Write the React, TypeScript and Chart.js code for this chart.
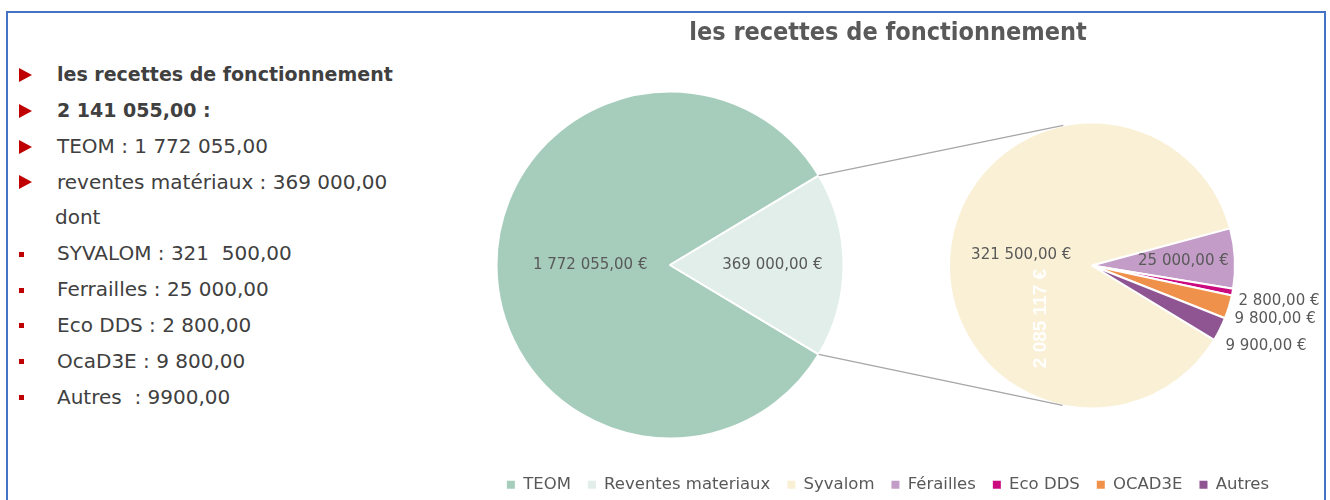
import React, { useEffect, useRef } from 'react';
import { Chart, registerables } from 'chart.js';

Chart.register(...registerables);

// ---------- data ----------
const chartTitle = 'les recettes de fonctionnement';
const mainLabels = ['TEOM', 'Reventes materiaux'];
const mainValues = [1772055, 369000];
const mainColors = ['#A6CDBC', '#E1EEEA'];

const subLabels = ['Syvalom', 'Férailles', 'Eco DDS', 'OCAD3E', 'Autres'];
const subValues = [321500, 25000, 2800, 9800, 9900];
const subColors = ['#FAF0D6', '#C49CC8', '#CC0A80', '#F0914B', '#8E5592'];

const boxTotalLabel = '2 085 117 €';

const headerLines = ['les recettes de fonctionnement', '2 141 055,00 :'];
const totalLines = ['TEOM : 1 772 055,00', 'reventes matériaux : 369 000,00'];
const dontLine = 'dont';
const detailLines = [
  'SYVALOM : 321  500,00',
  'Ferrailles : 25 000,00',
  'Eco DDS : 2 800,00',
  'OcaD3E : 9 800,00',
  'Autres  : 9900,00',
];

// ---------- helpers ----------
const FONT = '"DejaVu Sans", sans-serif';
const LABEL_COLOR = '#595959';

function formatEuro(v: number): string {
  const [intPart, dec] = v.toFixed(2).split('.');
  const grouped = intPart.replace(/\B(?=(\d{3})+(?!\d))/g, ' ');
  return `${grouped},${dec} €`;
}

function makePieAreaPlugin(cx: number, cy: number, r: number) {
  return {
    id: 'pieArea',
    afterLayout(chart: any) {
      chart.chartArea = {
        left: cx - r,
        top: cy - r,
        right: cx + r,
        bottom: cy + r,
        width: 2 * r,
        height: 2 * r,
      };
    },
  };
}

type Placement = { outside: boolean; frac?: number; gap?: number; dy?: number };

function makeSliceLabelPlugin(placement: Placement[]) {
  return {
    id: 'sliceLabels',
    afterDatasetsDraw(chart: any) {
      const meta = chart.getDatasetMeta(0);
      const values = chart.data.datasets[0].data as number[];
      const ctx = chart.ctx as CanvasRenderingContext2D;
      ctx.save();
      ctx.font = `15px ${FONT}`;
      ctx.fillStyle = LABEL_COLOR;
      meta.data.forEach((arc: any, i: number) => {
        const p = arc.getProps(['x', 'y', 'startAngle', 'endAngle', 'outerRadius'], true);
        const mid = (p.startAngle + p.endAngle) / 2;
        const pl = placement[i];
        const text = formatEuro(values[i]);
        if (pl.outside) {
          const rr = p.outerRadius + (pl.gap ?? 6);
          ctx.textAlign = 'left';
          ctx.textBaseline = 'middle';
          ctx.fillText(text, p.x + rr * Math.cos(mid), p.y + rr * Math.sin(mid) + (pl.dy ?? 0));
        } else {
          const rr = p.outerRadius * (pl.frac ?? 0.5);
          ctx.textAlign = 'center';
          ctx.textBaseline = 'middle';
          ctx.fillText(text, p.x + rr * Math.cos(mid), p.y + rr * Math.sin(mid));
        }
      });
      ctx.restore();
    },
  };
}

function makeConnectorPlugin(getMain: () => any, mainIndex: number) {
  return {
    id: 'connectors',
    afterDatasetsDraw(chart: any) {
      const main = getMain();
      if (!main) return;
      const arc = main.getDatasetMeta(0).data[mainIndex];
      const sub = chart.getDatasetMeta(0).data[0];
      if (!arc || !sub) return;
      const a = arc.getProps(['x', 'y', 'startAngle', 'endAngle', 'outerRadius'], true);
      const s = sub.getProps(['x', 'y', 'outerRadius'], true);
      const ctx = chart.ctx as CanvasRenderingContext2D;
      ctx.save();
      ctx.strokeStyle = '#A6A6A6';
      ctx.lineWidth = 1.3;
      const ends: Array<[number, number]> = [
        [a.startAngle, 1],
        [a.endAngle, -1],
      ];
      ends.forEach(([ang, sign]) => {
        const px = a.x + a.outerRadius * Math.cos(ang);
        const py = a.y + a.outerRadius * Math.sin(ang);
        const dx = px - s.x;
        const dy = py - s.y;
        const d = Math.hypot(dx, dy);
        const phi = Math.atan2(dy, dx);
        const alpha = Math.acos(Math.min(1, s.outerRadius / d));
        const t = phi + sign * alpha;
        ctx.beginPath();
        ctx.moveTo(px, py);
        ctx.lineTo(s.x + s.outerRadius * Math.cos(t), s.y + s.outerRadius * Math.sin(t));
        ctx.stroke();
      });
      ctx.restore();
    },
  };
}

function makeVerticalNotePlugin(text: string) {
  return {
    id: 'verticalNote',
    afterDatasetsDraw(chart: any) {
      const sub = chart.getDatasetMeta(0).data[0];
      if (!sub) return;
      const s = sub.getProps(['x', 'y', 'outerRadius'], true);
      const ctx = chart.ctx as CanvasRenderingContext2D;
      ctx.save();
      ctx.translate(s.x - 0.357 * s.outerRadius, s.y + 0.371 * s.outerRadius);
      ctx.rotate(-Math.PI / 2);
      ctx.font = 'bold 19px "Liberation Sans", Arial, sans-serif';
      ctx.fillStyle = 'rgba(255,255,255,0.95)';
      ctx.textAlign = 'center';
      ctx.textBaseline = 'middle';
      ctx.fillText(text, 0, 0);
      ctx.restore();
    },
  };
}

const CANVAS_LEFT = 452;
const CANVAS_TOP = 14;
const CANVAS_W = 872;
const CANVAS_H = 489;

export default function App() {
  const mainRef = useRef<HTMLCanvasElement>(null);
  const subRef = useRef<HTMLCanvasElement>(null);

  useEffect(() => {
    if (!mainRef.current || !subRef.current) return;

    const legendItems = () => [
      ...mainLabels.map((text, i) => ({
        text,
        fillStyle: mainColors[i],
        strokeStyle: mainColors[i],
        lineWidth: 0,
        hidden: false,
        index: i,
        fontColor: LABEL_COLOR,
      })),
      ...subLabels.map((text, i) => ({
        text,
        fillStyle: subColors[i],
        strokeStyle: subColors[i],
        lineWidth: 0,
        hidden: false,
        index: mainLabels.length + i,
        fontColor: LABEL_COLOR,
      })),
    ];

    const main: any = new Chart(mainRef.current, {
      type: 'pie',
      data: {
        labels: mainLabels,
        datasets: [
          {
            data: mainValues,
            backgroundColor: mainColors,
            borderColor: '#FFFFFF',
            borderWidth: 2,
          },
        ],
      },
      options: {
        responsive: false,
        animation: false,
        rotation: 121,
        events: [],
        layout: { padding: 0 },
        plugins: {
          title: {
            display: true,
            text: chartTitle,
            color: LABEL_COLOR,
            font: { family: '"DejaVu Sans Condensed", "DejaVu Sans", sans-serif', size: 25, weight: 'bold' },
            padding: { top: 4, bottom: 8 },
          },
          legend: {
            display: true,
            position: 'bottom',
            onClick: () => {},
            labels: {
              generateLabels: legendItems,
              boxWidth: 8,
              boxHeight: 8,
              padding: 17,
              color: LABEL_COLOR,
              font: { family: FONT, size: 16.5 },
            },
          },
          tooltip: { enabled: false },
        },
      },
      plugins: [
        makePieAreaPlugin(218, 251, 174.5),
        makeSliceLabelPlugin([
          { outside: false, frac: 0.46 },
          { outside: false, frac: 0.59 },
        ]),
      ],
    } as any);

    const sub: any = new Chart(subRef.current, {
      type: 'pie',
      data: {
        labels: subLabels,
        datasets: [
          {
            data: subValues,
            backgroundColor: subColors,
            borderColor: '#FFFFFF',
            borderWidth: 2,
          },
        ],
      },
      options: {
        responsive: false,
        animation: false,
        rotation: 121.3,
        events: [],
        layout: { padding: 0 },
        plugins: {
          legend: { display: false },
          title: { display: false },
          tooltip: { enabled: false },
        },
      },
      plugins: [
        makePieAreaPlugin(640, 251.5, 144),
        makeConnectorPlugin(() => main, 1),
        makeSliceLabelPlugin([
          { outside: false, frac: 0.5 },
          { outside: false, frac: 0.64 },
          { outside: true, gap: 6, dy: 8 },
          { outside: true, gap: 6, dy: 10 },
          { outside: true, gap: 6, dy: 14 },
        ]),
        makeVerticalNotePlugin(boxTotalLabel),
      ],
    } as any);

    return () => {
      sub.destroy();
      main.destroy();
    };
  }, []);

  const LINE_TOP = 57;
  const LINE_H = 35.85;
  const textColor = '#404040';

  type Row = { text: string; bold: boolean; bullet: 'arrow' | 'square' | 'none' };
  const rows: Row[] = [
    ...headerLines.map((text) => ({ text, bold: true, bullet: 'arrow' as const })),
    ...totalLines.map((text) => ({ text, bold: false, bullet: 'arrow' as const })),
    { text: dontLine, bold: false, bullet: 'none' as const },
    ...detailLines.map((text) => ({ text, bold: false, bullet: 'square' as const })),
  ];

  return (
    <div
      style={{
        position: 'fixed',
        left: 0,
        top: 0,
        width: 1330,
        height: 500,
        overflow: 'hidden',
        background: '#FFFFFF',
      }}
    >
      <div
        style={{
          position: 'absolute',
          left: 6,
          top: 11,
          width: 1316,
          height: 540,
          border: '2px solid #4472C4',
          boxSizing: 'content-box',
        }}
      />
      {rows.map((row, i) => (
        <div
          key={i}
          style={{
            position: 'absolute',
            left: 0,
            top: LINE_TOP + i * LINE_H,
            width: 440,
            height: LINE_H,
            display: 'flex',
            alignItems: 'center',
          }}
        >
          {row.bullet === 'arrow' && (
            <span
              style={{
                position: 'absolute',
                left: 19,
                top: LINE_H / 2 - 7,
                width: 0,
                height: 0,
                borderLeft: '13px solid #C00000',
                borderTop: '7px solid transparent',
                borderBottom: '7px solid transparent',
              }}
            />
          )}
          {row.bullet === 'square' && (
            <span
              style={{
                position: 'absolute',
                left: 19,
                top: LINE_H / 2 - 2.5,
                width: 5,
                height: 5,
                background: '#C00000',
              }}
            />
          )}
          <span
            style={{
              position: 'absolute',
              left: row.bullet === 'none' ? 55 : 57,
              whiteSpace: 'pre',
              fontFamily: FONT,
              fontSize: row.bold ? 19 : 20,
              fontWeight: row.bold ? 'bold' : 'normal',
              color: textColor,
              lineHeight: `${LINE_H}px`,
            }}
          >
            {row.text}
          </span>
        </div>
      ))}
      <canvas
        ref={mainRef}
        width={CANVAS_W}
        height={CANVAS_H}
        style={{ position: 'absolute', left: CANVAS_LEFT, top: CANVAS_TOP }}
      />
      <canvas
        ref={subRef}
        width={CANVAS_W}
        height={CANVAS_H}
        style={{ position: 'absolute', left: CANVAS_LEFT, top: CANVAS_TOP, pointerEvents: 'none' }}
      />
    </div>
  );
}
